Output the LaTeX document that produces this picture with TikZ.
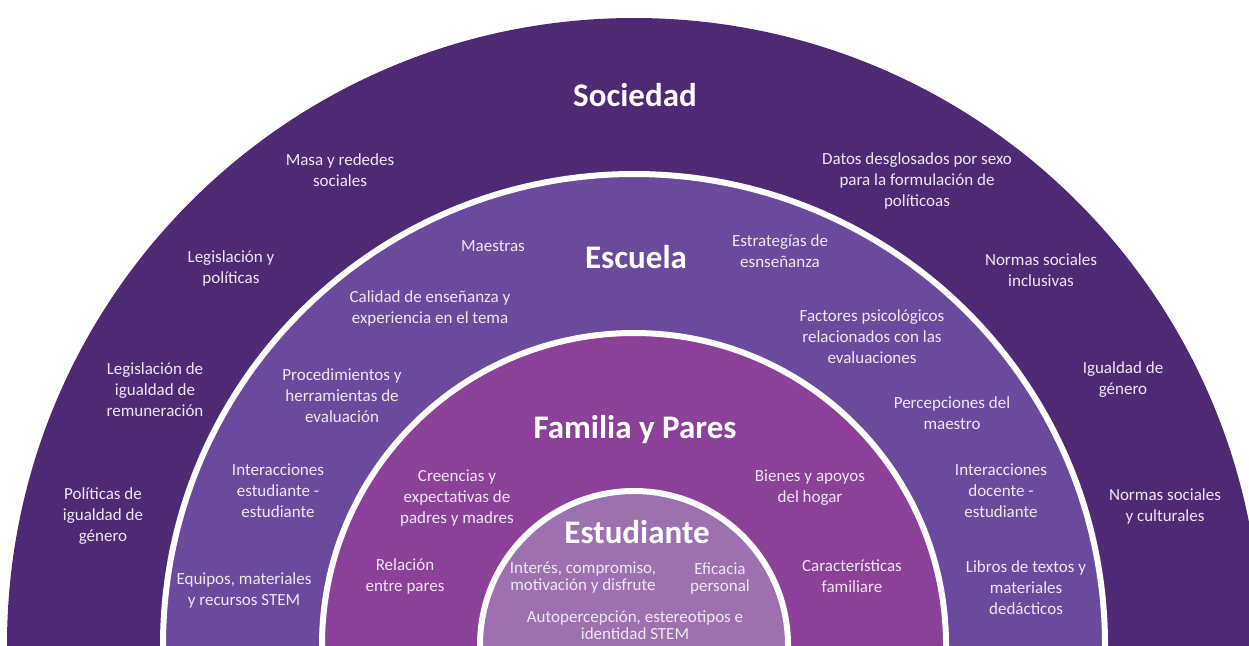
\documentclass[tikz,border=0pt]{standalone}
\usepackage{fontspec}
\setmainfont{Carlito}
\definecolor{soc}{HTML}{4E2A75}
\definecolor{esc}{HTML}{6A4A9C}
\definecolor{fam}{HTML}{8B4197}
\definecolor{est}{HTML}{9D71AF}
\definecolor{txt}{HTML}{EEE8F3}
\tikzset{
  ring/.style={draw=white, line width=6pt},
  lbl/.style={text=txt, align=center, inner sep=0pt, font=\fontsize{17}{21}\selectfont},
  lbltight/.style={text=txt, align=center, inner sep=0pt, font=\fontsize{17}{17}\selectfont},
  ttl/.style={text=white, align=center, inner sep=0pt, font=\fontsize{33}{40}\selectfont\bfseries}
}
\begin{document}
\begin{tikzpicture}[x=1pt,y=-1pt]
\useasboundingbox (0,0) rectangle (1249,645);
\begin{scope}
  \clip (0,0) rectangle (1249,645);
  \fill[soc] (634,645) circle (627pt);
  \filldraw[ring, fill=esc] (634,645) circle (471pt);
  \filldraw[ring, fill=fam] (634,645) circle (312pt);
  \filldraw[ring, fill=est] (634,645) circle (154pt);
\end{scope}
% titles
\node[ttl] (tsoc) at (635,95) {Sociedad};
\node[ttl] (tesc) at (636,257) {Escuela};
\node[ttl] (tfam) at (635,430) {Familia y Pares};
\node[ttl] (test) at (637,532) {Estudiante};
% Sociedad
\node[lbl] (s1) at (340,170) {Masa y rededes\\sociales};
\node[lbl] (s2) at (231,268) {Legislación y\\políticas};
\node[lbl] (s3) at (155,390) {Legislación de\\igualdad de\\remuneración};
\node[lbl] (s4) at (103,516) {Políticas de\\igualdad de\\género};
\node[lbl] (s5) at (917,181) {Datos desglosados por sexo\\para la formulación de\\políticoas};
\node[lbl] (s6) at (1041,270) {Normas sociales\\inclusivas};
\node[lbl] (s7) at (1123,380) {Igualdad de\\género};
\node[lbl] (s8) at (1165,506) {Normas sociales\\y culturales};
% Escuela
\node[lbl] (e1) at (493,246) {Maestras};
\node[lbl] (e2) at (780,251) {Estrategías de\\esnseñanza};
\node[lbl] (e3) at (430,308) {Calidad de enseñanza y\\experiencia en el tema};
\node[lbl] (e4) at (872,337) {Factores psicológicos\\relacionados con las\\evaluaciones};
\node[lbl] (e5) at (342,396) {Procedimientos y\\herramientas de\\evaluación};
\node[lbl] (e6) at (952,413) {Percepciones del\\maestro};
\node[lbl] (e7) at (278,491) {Interacciones\\estudiante -\\estudiante};
\node[lbl] (e8) at (1001,491) {Interacciones\\docente -\\estudiante};
\node[lbl] (e9) at (244,590) {Equipos, materiales\\y recursos STEM};
\node[lbl] (e10) at (1026,588) {Libros de textos y\\materiales\\dedácticos};
% Familia
\node[lbl] (f1) at (457,498) {Creencias y\\expectativas de\\padres y madres};
\node[lbl] (f2) at (810,488) {Bienes y apoyos\\del hogar};
\node[lbl] (f3) at (405,576) {Relación\\entre pares};
\node[lbl] (f4) at (852,576) {Características\\familiare};
% Estudiante
\node[lbltight] (u1) at (583,578) {Interés, compromiso,\\motivación y disfrute};
\node[lbltight] (u2) at (720,578) {Eficacia\\personal};
\node[lbltight] (u3) at (635,625) {Autopercepción, estereotipos e\\identidad STEM};
\end{tikzpicture}
\end{document}
